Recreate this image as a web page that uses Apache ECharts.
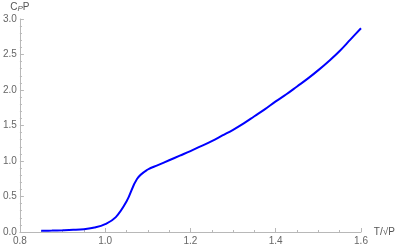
<!DOCTYPE html>
<html><head><meta charset="utf-8">
<script src="https://cdn.jsdelivr.net/npm/echarts@6/dist/echarts.min.js"></script>
<style>html,body{margin:0;padding:0;background:#fff}#c{width:399px;height:248px}</style>
</head><body><div id="c"></div>
<script>
var tValues = [0.85,0.875,0.9,0.925,0.95,0.975,1.0,1.025,1.05,1.075,1.1,1.125,1.15,1.175,1.2,1.225,1.25,1.275,1.3,1.325,1.35,1.375,1.4,1.425,1.45,1.475,1.5,1.525,1.55,1.575,1.6];
var cpValues = [0.018,0.02,0.024,0.03,0.04,0.062,0.11,0.21,0.43,0.75,0.88,0.945,1.01,1.075,1.14,1.21,1.28,1.36,1.44,1.53,1.63,1.73,1.84,1.94,2.05,2.16,2.28,2.41,2.55,2.71,2.87];
var xTicks = [0.8,1.0,1.2,1.4,1.6];
var yTicks = [0.0,0.5,1.0,1.5,2.0,2.5,3.0];

var data = tValues.map(function(t,i){return [t,cpValues[i]];});
var chart = echarts.init(document.getElementById('c'), null, {renderer:'canvas'});
var axisCol = '#b8b8b8';
var labCol = '#666';
chart.setOption({
  animation:false,
  grid:{left:17.5,right:38,top:19,bottom:16,containLabel:false},
  xAxis:{type:'value',min:0.8,max:1.6,interval:0.2,
    name:'T/√P',nameLocation:'end',nameGap:4,
    nameTextStyle:{color:'#555',fontSize:10,fontFamily:'Liberation Sans',verticalAlign:'middle',padding:[6,0,0,0]},
    axisLine:{lineStyle:{color:axisCol,width:1}},
    axisTick:{inside:true,length:4,lineStyle:{color:axisCol}},
    minorTick:{show:true,splitNumber:4,length:2,lineStyle:{color:axisCol}},
    splitLine:{show:false},
    axisLabel:{color:labCol,fontSize:10,fontFamily:'Liberation Sans',margin:4,formatter:function(v){return v.toFixed(1);}}
  },
  yAxis:{type:'value',min:0,max:3,interval:0.5,
    name:'{c|C}{p|P}{c|P}',nameLocation:'end',nameGap:6,
    nameTextStyle:{rich:{c:{color:'#555',fontSize:10,fontFamily:'Liberation Sans'},p:{color:'#555',fontSize:8,fontStyle:'italic',fontFamily:'Liberation Sans',verticalAlign:'bottom',padding:[3,0,0,0]}}},
    axisLine:{show:true,lineStyle:{color:axisCol,width:1}},
    axisTick:{show:true,inside:true,length:4,lineStyle:{color:axisCol}},
    minorTick:{show:true,splitNumber:5,length:2,lineStyle:{color:axisCol}},
    splitLine:{show:false},
    axisLabel:{color:labCol,fontSize:10,fontFamily:'Liberation Sans',margin:3,formatter:function(v){return v.toFixed(1);}}
  },
  series:[{type:'line',data:data,smooth:0.4,showSymbol:false,
    lineStyle:{color:'#0000ff',width:2}}]
});
</script></body></html>
